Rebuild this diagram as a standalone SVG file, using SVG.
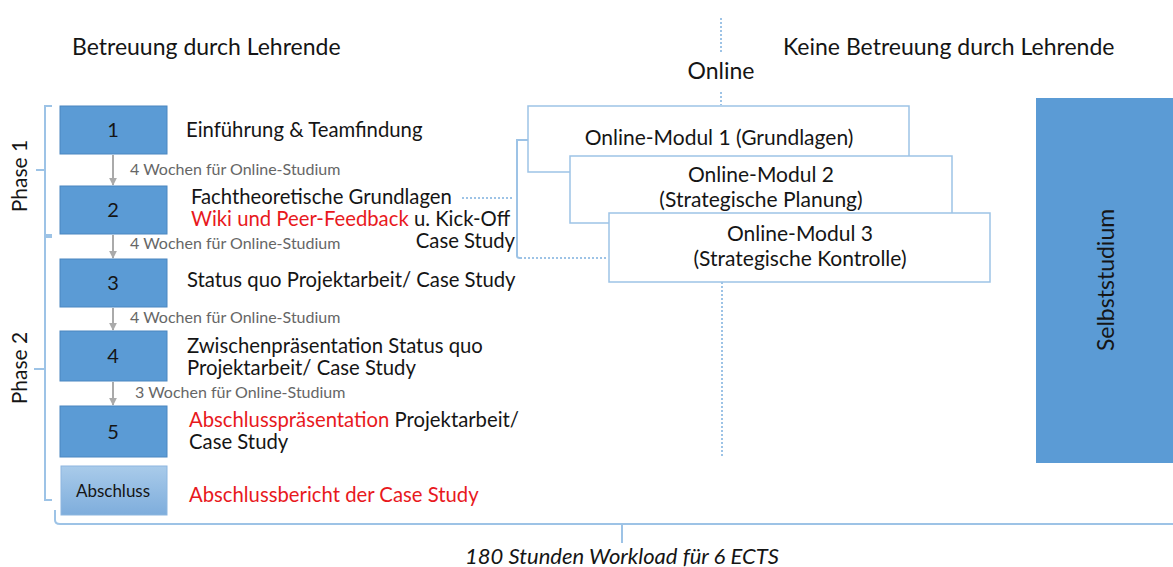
<svg xmlns="http://www.w3.org/2000/svg" width="1173" height="567" viewBox="0 0 1173 567">
<defs>
<style>
text{font-family:Lato,"Open Sans","Liberation Sans",sans-serif;fill:#151515}
.h{font-size:23px}
.t{font-size:20.3px}
.m{font-size:21px;text-anchor:middle}
.r{fill:#e8191d}
.w{font-size:16px;fill:#666}
.num{font-size:20px;text-anchor:middle}
.box{fill:#5B9BD5;stroke:#4A86C0;stroke-width:1}
.mod{fill:#fff;stroke:#9DC3E6;stroke-width:1.5}
.br{fill:none;stroke:#9DC3E6;stroke-width:2}
.dot{fill:none;stroke:#9DC3E6;stroke-width:2;stroke-dasharray:2 2}
.ar{fill:none;stroke:#aaa;stroke-width:2}
</style>
<linearGradient id="g" x1="0" y1="0" x2="0" y2="1">
<stop offset="0" stop-color="#A9CBEA"/><stop offset="1" stop-color="#7EADDC"/>
</linearGradient>
<marker id="m" viewBox="0 0 10 10" refX="9" refY="5" markerWidth="4" markerHeight="4" orient="auto">
<path d="M0,0L10,5L0,10z" fill="#aaa"/>
</marker>
</defs>
<rect width="1173" height="567" fill="#fff"/>

<g id="headers">
<text class="h" x="72" y="55">Betreuung durch Lehrende</text>
<text class="h" x="783" y="55">Keine Betreuung durch Lehrende</text>
<text class="h" x="721" y="79" text-anchor="middle">Online</text>
</g>

<g id="connectors">
<line class="ar" x1="113" y1="155" x2="113" y2="185" marker-end="url(#m)"/>
<line class="ar" x1="113" y1="235" x2="113" y2="258" marker-end="url(#m)"/>
<line class="ar" x1="113" y1="308" x2="113" y2="330" marker-end="url(#m)"/>
<line class="ar" x1="113" y1="382" x2="113" y2="405" marker-end="url(#m)"/>
<line class="dot" x1="721" y1="18" x2="721" y2="52"/>
<line class="dot" x1="721" y1="92" x2="721" y2="105"/>
<line class="dot" x1="722" y1="282" x2="722" y2="458"/>
<line class="dot" x1="462" y1="198" x2="514" y2="198"/>
<path class="br" d="M528,140 H517 V256 Q517,258 520,258"/>
<line class="dot" x1="520" y1="258" x2="606" y2="258"/>
<path class="br" d="M52,106 H45 V235 H52"/>
<line class="br" x1="45" y1="170" x2="36" y2="170"/>
<path class="br" d="M52,237 H45 V500 H52"/>
<line class="br" x1="45" y1="369" x2="34" y2="369"/>
<path class="br" d="M55,510 V520 Q55,524 60,524 H1173"/>
<line class="br" x1="622" y1="524" x2="622" y2="543"/>
</g>

<g id="phase1"><text class="h" style="font-size:21px" transform="translate(27,176) rotate(-90)" text-anchor="middle">Phase 1</text></g>
<g id="phase2"><text class="h" style="font-size:21px" transform="translate(27,368) rotate(-90)" text-anchor="middle">Phase 2</text></g>

<g id="n1"><rect class="box" x="60" y="106" width="107" height="48"/><text class="num" x="113" y="137">1</text>
<text class="t" x="186" y="137">Einführung &amp; Teamfindung</text></g>
<text class="w" x="130" y="175">4 Wochen für Online-Studium</text>

<g id="n2"><rect class="box" x="60" y="186" width="107" height="48"/><text class="num" x="113" y="217">2</text>
<text class="t" x="191" y="204">Fachtheoretische Grundlagen<tspan x="191" dy="22"><tspan class="r">Wiki und Peer-Feedback</tspan> u. Kick-Off</tspan><tspan x="515" dy="22" text-anchor="end">Case Study</tspan></text></g>
<text class="w" x="130" y="249">4 Wochen für Online-Studium</text>

<g id="n3"><rect class="box" x="60" y="259" width="107" height="48"/><text class="num" x="113" y="290">3</text>
<text class="t" x="187" y="287">Status quo Projektarbeit/ Case Study</text></g>
<text class="w" x="130" y="323">4 Wochen für Online-Studium</text>

<g id="n4"><rect class="box" x="60" y="331" width="107" height="50"/><text class="num" x="113" y="363">4</text>
<text class="t" x="187" y="353">Zwischenpräsentation Status quo<tspan x="187" dy="22">Projektarbeit/ Case Study</tspan></text></g>
<text class="w" x="135" y="398">3 Wochen für Online-Studium</text>

<g id="n5"><rect class="box" x="60" y="406" width="107" height="51"/><text class="num" x="113" y="439">5</text>
<text class="t" x="189" y="427"><tspan class="r">Abschlusspräsentation</tspan> Projektarbeit/<tspan x="189" dy="22">Case Study</tspan></text></g>

<g id="abschluss"><rect x="61" y="466" width="106" height="49" fill="url(#g)" stroke="#8DB6DF"/>
<text x="113" y="497" text-anchor="middle" style="font-size:17px">Abschluss</text>
<text class="t r" x="189" y="502">Abschlussbericht der Case Study</text></g>

<g id="mod1"><rect class="mod" x="528" y="106" width="381" height="66"/>
<text class="m" x="719" y="145">Online-Modul 1 (Grundlagen)</text></g>
<g id="mod2"><rect class="mod" x="570" y="156" width="382" height="67"/>
<text class="m" x="761" y="182">Online-Modul 2<tspan x="761" dy="24.5">(Strategische Planung)</tspan></text></g>
<g id="mod3"><rect class="mod" x="609" y="213" width="381" height="69"/>
<text class="m" x="800" y="241">Online-Modul 3<tspan x="800" dy="24.5">(Strategische Kontrolle)</tspan></text></g>

<g id="selbst"><rect x="1036" y="98" width="137" height="365" fill="#5B9BD5"/>
<text class="t" style="font-size:23px" transform="translate(1114,280) rotate(-90)" text-anchor="middle">Selbststudium</text></g>

<g id="workload"><text x="622" y="564" text-anchor="middle" style="font-size:22px;font-style:italic">180 Stunden Workload für 6 ECTS</text></g>
</svg>
